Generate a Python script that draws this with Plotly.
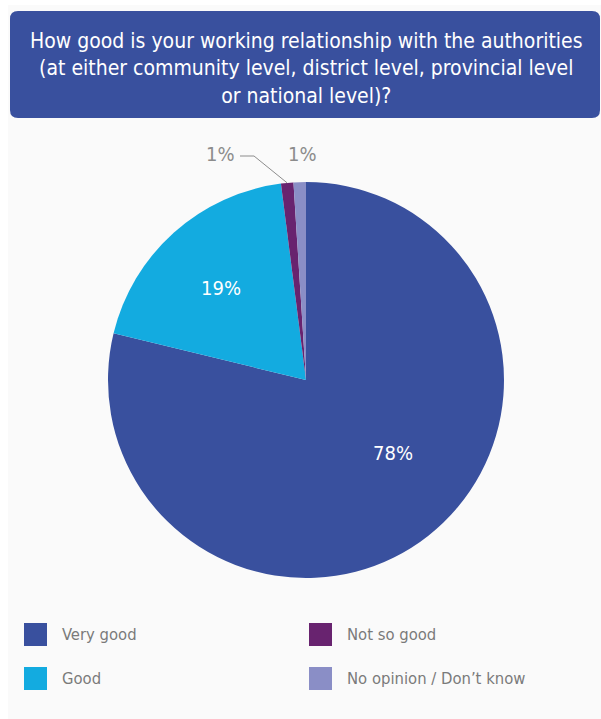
import math
import plotly.graph_objects as go

# ---- data ----
categories = ["Very good", "Good", "Not so good", "No opinion / Don\u2019t know"]
values = [78, 19, 1, 1]
colors = ["#39509e", "#13abe0", "#68236f", "#8a8ec6"]
title_lines = [
    "How good is your working relationship with the authorities",
    "(at either community level, district level, provincial level",
    "or national level)?",
]

W, H = 601, 719
FONT = "Liberation Sans Narrow, DejaVu Sans Condensed, Roboto, sans-serif"


def px(x):
    return x / W


def py(y):
    return 1 - y / H


# pie geometry (pixels)
cx, cy, r = 306, 380, 198

fig = go.Figure()
fig.add_trace(go.Pie(
    labels=categories,
    values=values,
    marker=dict(colors=colors, line=dict(width=0)),
    sort=False,
    direction="clockwise",
    rotation=0,
    textinfo="none",
    hoverinfo="label+value",
    showlegend=False,
    domain=dict(x=[px(cx - r), px(cx + r)], y=[py(cy + r), py(cy - r)]),
))

shapes = []
# light panel background
shapes.append(dict(type="rect", xref="paper", yref="paper",
                   x0=px(8), x1=px(601), y0=py(719), y1=py(5),
                   fillcolor="#fafafa", line=dict(width=0), layer="below"))
# rounded title box
x0, x1, y0, y1, rr = 10, 600, 11, 118, 8
path = (f"M {px(x0+rr)},{py(y0)} L {px(x1-rr)},{py(y0)} Q {px(x1)},{py(y0)} {px(x1)},{py(y0+rr)} "
        f"L {px(x1)},{py(y1-rr)} Q {px(x1)},{py(y1)} {px(x1-rr)},{py(y1)} "
        f"L {px(x0+rr)},{py(y1)} Q {px(x0)},{py(y1)} {px(x0)},{py(y1-rr)} "
        f"L {px(x0)},{py(y0+rr)} Q {px(x0)},{py(y0)} {px(x0+rr)},{py(y0)} Z")
shapes.append(dict(type="path", xref="paper", yref="paper", path=path,
                   fillcolor="#39509e", line=dict(width=0), layer="below"))

# leader line for "Not so good" small label
tot = sum(values)
start = sum(values[:2]) / tot * 360
mid = start + values[2] / tot * 180
tx = cx + r * math.sin(math.radians(mid))
ty = cy - r * math.cos(math.radians(mid))
shapes.append(dict(type="path", xref="paper", yref="paper",
                   path=f"M {px(240)},{py(156)} L {px(254)},{py(156)} L {px(tx)},{py(ty)}",
                   line=dict(color="#8c8c8c", width=1)))

annotations = []
annotations.append(dict(text="<br>".join(title_lines), xref="paper", yref="paper",
                        x=px(306), y=py(68), xanchor="center", yanchor="middle",
                        showarrow=False, align="center",
                        font=dict(family=FONT, size=21, color="white")))

# slice labels
label_pos = [(393, 453, "white"), (221, 288, "white"), (220, 154, "#8c8c8c"), (302, 154, "#8c8c8c")]
for (lx, ly, lc), v in zip(label_pos, values):
    annotations.append(dict(text=f"{v}%", xref="paper", yref="paper",
                            x=px(lx), y=py(ly), xanchor="center", yanchor="middle",
                            showarrow=False, font=dict(family=FONT, size=20, color=lc)))

# legend (2 x 2 grid, column-major)
leg_pos = [(24, 623), (24, 667), (309, 623), (309, 667)]
for (lx, ly), lab, col in zip(leg_pos, categories, colors):
    shapes.append(dict(type="rect", xref="paper", yref="paper",
                       x0=px(lx), x1=px(lx + 23), y0=py(ly + 23), y1=py(ly),
                       fillcolor=col, line=dict(width=0)))
    annotations.append(dict(text=lab, xref="paper", yref="paper",
                            x=px(lx + 36), y=py(ly + 11.5), xanchor="left", yanchor="middle",
                            showarrow=False, font=dict(family=FONT, size=16.5, color="#7a7a7a")))

fig.update_layout(
    width=W, height=H,
    margin=dict(l=0, r=0, t=0, b=0),
    paper_bgcolor="white",
    plot_bgcolor="white",
    shapes=shapes,
    annotations=annotations,
    showlegend=False,
)

fig.write_html("out.html")
